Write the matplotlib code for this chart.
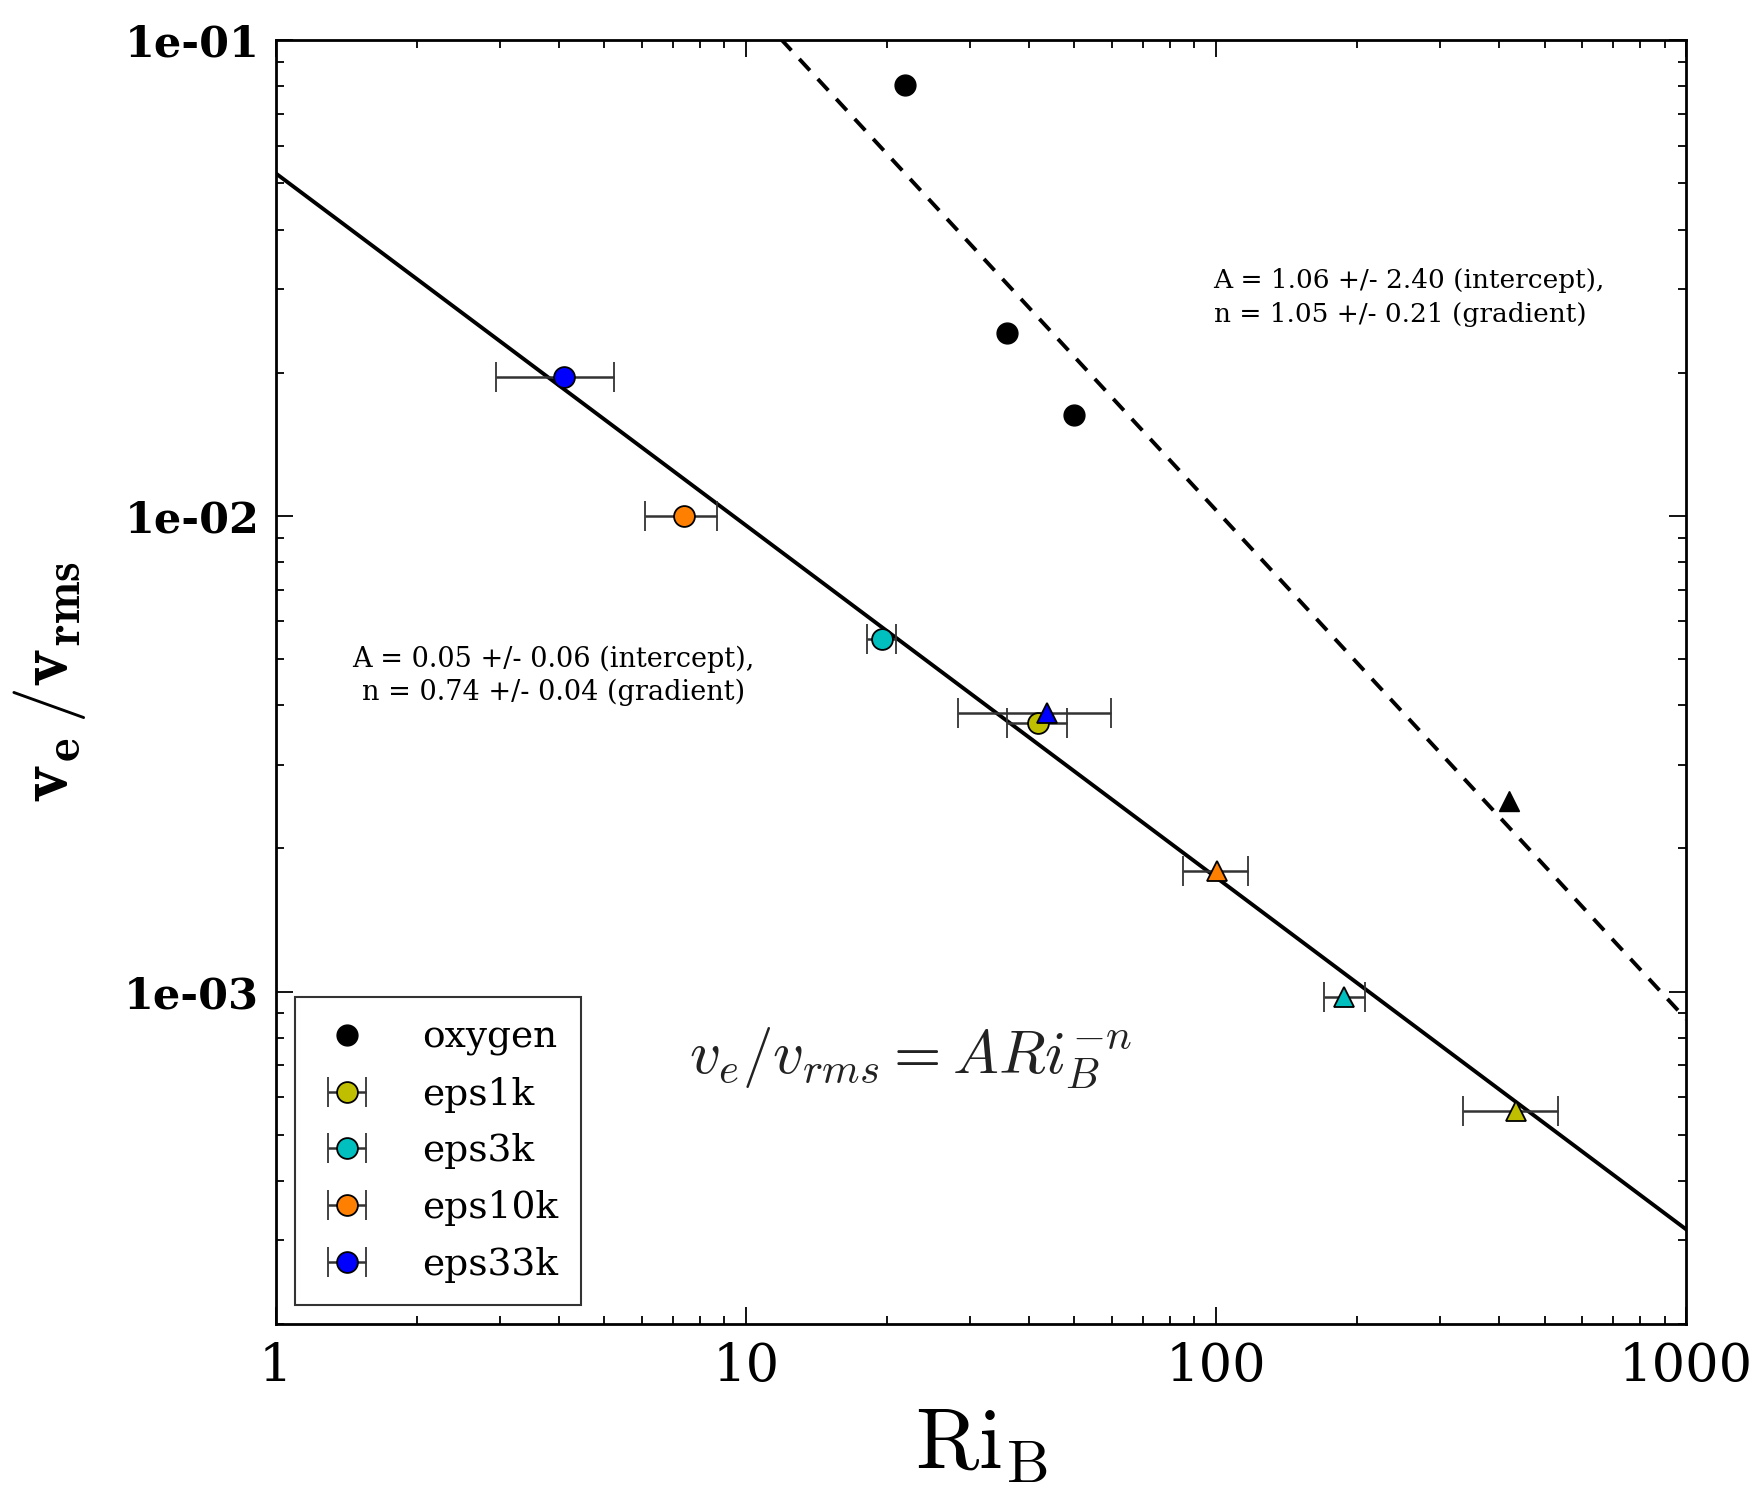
import numpy as np
import matplotlib
matplotlib.use("Agg")
import matplotlib.pyplot as plt
from matplotlib.ticker import FixedLocator, FixedFormatter, LogLocator, NullFormatter

plt.rcParams['font.family'] = ['DejaVu Serif']
plt.rcParams['mathtext.fontset'] = 'cm'

# oxygen runs
oxy_circ_x = [21.8, 35.9, 50.0]
oxy_circ_y = [0.0805, 0.0243, 0.0163]
oxy_tri_x = [420.0]
oxy_tri_y = [0.00251]

# eps runs: circles and triangles (x, y, x-err low, x-err high)
runs = ['eps1k', 'eps3k', 'eps10k', 'eps33k']
run_colors = ['#bfbf00', '#00bfbf', '#ff8000', '#0000ff']
circ_x = [41.9, 19.5, 7.37, 4.1]
circ_y = [0.00367, 0.00551, 0.0100, 0.0196]
circ_xlo = [35.9, 18.1, 6.11, 2.94]
circ_xhi = [48.1, 20.9, 8.69, 5.24]
tri_x = [434.0, 187.6, 100.3, 43.8]
tri_y = [0.00056, 0.000973, 0.00179, 0.00385]
tri_xlo = [335.5, 170.0, 85.1, 28.3]
tri_xhi = [535.0, 208.0, 117.0, 59.9]

# fit lines  y = A * x^-n
fit_solid = (0.0525, 0.74)
fit_dash = (1.42, 1.07)

fig = plt.figure(figsize=(17.57, 14.93), dpi=100)
ax = fig.add_axes([0.157, 0.1132, 0.8026, 0.8598])
ax.set_xscale('log')
ax.set_yscale('log')

xx = np.logspace(0, 3, 200)
ax.plot(xx, fit_solid[0] * xx ** -fit_solid[1], color='black', lw=2.8, zorder=1)
ax.plot(xx, fit_dash[0] * xx ** -fit_dash[1], color='black', lw=2.8, ls=(0, (4, 3)), zorder=1)

ax.plot(oxy_circ_x, oxy_circ_y, 'o', color='black', ms=15, label='oxygen', zorder=3)
ax.plot(oxy_tri_x, oxy_tri_y, '^', color='black', ms=15, zorder=3)

for i, name in enumerate(runs):
    c = run_colors[i]
    xerr_c = [[circ_x[i] - circ_xlo[i]], [circ_xhi[i] - circ_x[i]]]
    ax.errorbar([circ_x[i]], [circ_y[i]], xerr=xerr_c, fmt='o', color='#333333',
                mfc=c, mec='black', mew=1.3, ms=15, capsize=11, elinewidth=1.8,
                capthick=1.8, label=name, zorder=3)
    xerr_t = [[tri_x[i] - tri_xlo[i]], [tri_xhi[i] - tri_x[i]]]
    ax.errorbar([tri_x[i]], [tri_y[i]], xerr=xerr_t, fmt='^', color='#333333',
                mfc=c, mec='black', mew=1.3, ms=15, capsize=11, elinewidth=1.8,
                capthick=1.8, zorder=3)

ax.set_xlim(1, 1000)
ax.set_ylim(2.0e-4, 1e-1)

ax.xaxis.set_major_locator(FixedLocator([1, 10, 100, 1000]))
ax.xaxis.set_major_formatter(FixedFormatter(['1', '10', '100', '1000']))
ax.yaxis.set_major_locator(FixedLocator([1e-3, 1e-2, 1e-1]))
ax.yaxis.set_major_formatter(FixedFormatter(['1e-03', '1e-02', '1e-01']))
ax.xaxis.set_minor_locator(LogLocator(base=10, subs=np.arange(2, 10), numticks=20))
ax.yaxis.set_minor_locator(LogLocator(base=10, subs=np.arange(2, 10), numticks=20))
ax.xaxis.set_minor_formatter(NullFormatter())
ax.yaxis.set_minor_formatter(NullFormatter())

ax.tick_params(which='both', direction='in', top=True, right=True, width=1.3)
ax.tick_params(which='major', length=12, pad=12)
ax.tick_params(which='minor', length=6)
ax.tick_params(axis='x', labelsize=38)
ax.tick_params(axis='y', labelsize=31)
for lab in ax.get_yticklabels():
    lab.set_fontweight('semibold')
for sp in ax.spines.values():
    sp.set_linewidth(2)

ax.set_xlabel(r'$\mathrm{Ri_B}$', fontsize=62, labelpad=8)
ax.set_ylabel(r'$\mathbf{v_e\,/v_{rms}}$', fontsize=52, labelpad=26)

ax.text(0.665, 0.80, 'A = 1.06 +/- 2.40 (intercept),\nn = 1.05 +/- 0.21 (gradient)',
        transform=ax.transAxes, fontsize=19, ha='left', va='center', linespacing=1.45)
ax.text(0.197, 0.505, 'A = 0.05 +/- 0.06 (intercept),\nn = 0.74 +/- 0.04 (gradient)',
        transform=ax.transAxes, fontsize=19.5, ha='center', va='center', linespacing=1.3,
        multialignment='center')
ax.text(0.45, 0.207, r'$v_e/v_{rms} = ARi_B^{-n}$', transform=ax.transAxes,
        fontsize=44, ha='center', va='center', color='#222222')

leg = ax.legend(loc='lower left', fontsize=27, frameon=True, fancybox=False,
                edgecolor='black', borderpad=0.6, labelspacing=0.55,
                handlelength=1.6, handletextpad=1.2, borderaxespad=0.5)
leg.get_frame().set_linewidth(1.5)

fig.savefig('out.png', dpi=100)
